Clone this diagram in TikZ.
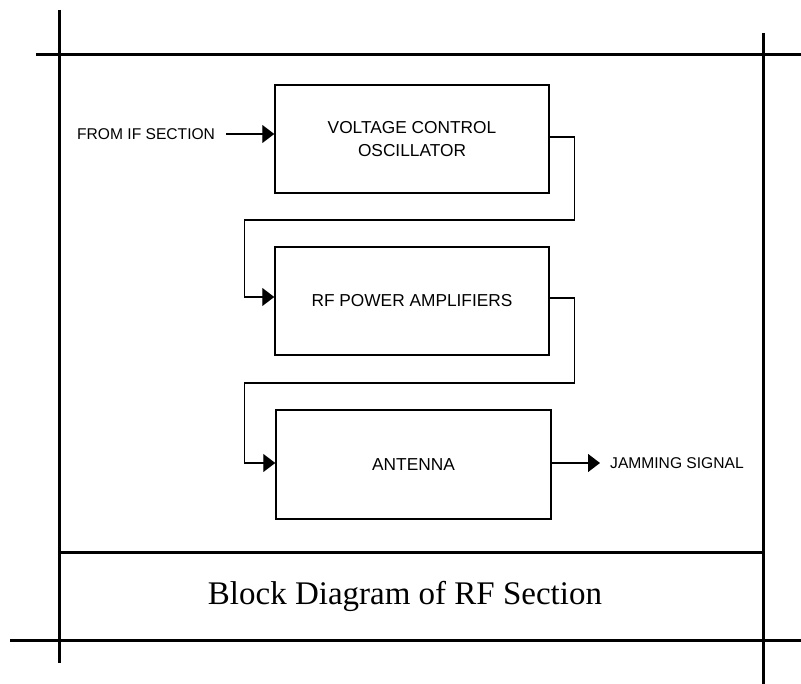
\documentclass[tikz,border=0pt]{standalone}
\usepackage{fontspec}
\setmainfont{Liberation Serif}
\newfontfamily\arialfont{Liberation Sans}
\usetikzlibrary{arrows.meta}
\begin{document}
\begin{tikzpicture}[x=1pt,y=-1pt,
  frame/.style={line width=3pt},
  block/.style={draw,line width=1.5pt,minimum width=274pt,minimum height=108pt,
    font=\arialfont\fontsize{17.3}{23}\selectfont,align=center,inner sep=0pt},
  wire/.style={line width=1.3pt},
  arr/.style={wire,-{Triangle[length=12pt,width=18pt]}},
  lbl/.style={font=\arialfont\fontsize{15.6}{17}\selectfont,inner sep=0pt}]
\useasboundingbox (0,0) rectangle (801,684);
% frame
\draw[frame] (59,10) -- (59,663);
\draw[frame] (763,33) -- (763,684);
\draw[frame] (36,55) -- (801,55);
\draw[frame] (59,552) -- (763,552);
\draw[frame] (10,640) -- (801,640);
% blocks
\node[block] (vco) at (412,139) {VOLTAGE CONTROL\\OSCILLATOR};
\node[block] (amp) at (412,301) {RF POWER AMPLIFIERS};
\node[block,minimum width=275pt,minimum height=109pt] (ant) at (413.5,464.5) {ANTENNA};
% labels
\node[lbl,anchor=west] (from) at (77,134) {FROM IF SECTION};
\node[lbl,anchor=west] (jam) at (610,463) {JAMMING SIGNAL};
% title
\node[font=\fontsize{33}{36}\selectfont] (title) at (405,596) {Block Diagram of RF Section};
% connectors
\draw[arr] ([xshift=11pt]from.east) -- (from.east -| vco.west);
\draw[arr] ([yshift=2pt]vco.east) -- ++(25,0) -- ++(0,83) -| ([xshift=-30pt,yshift=4pt]amp.west) -- ([yshift=4pt]amp.west);
\draw[arr] ([yshift=3pt]amp.east) -- ++(25,0) -- ++(0,85) -| ([xshift=-31pt,yshift=1.5pt]ant.west) -- ([yshift=1.5pt]ant.west);
\draw[arr] ([yshift=1.5pt]ant.east) -- ([xshift=-10pt]jam.west);
\end{tikzpicture}
\end{document}
